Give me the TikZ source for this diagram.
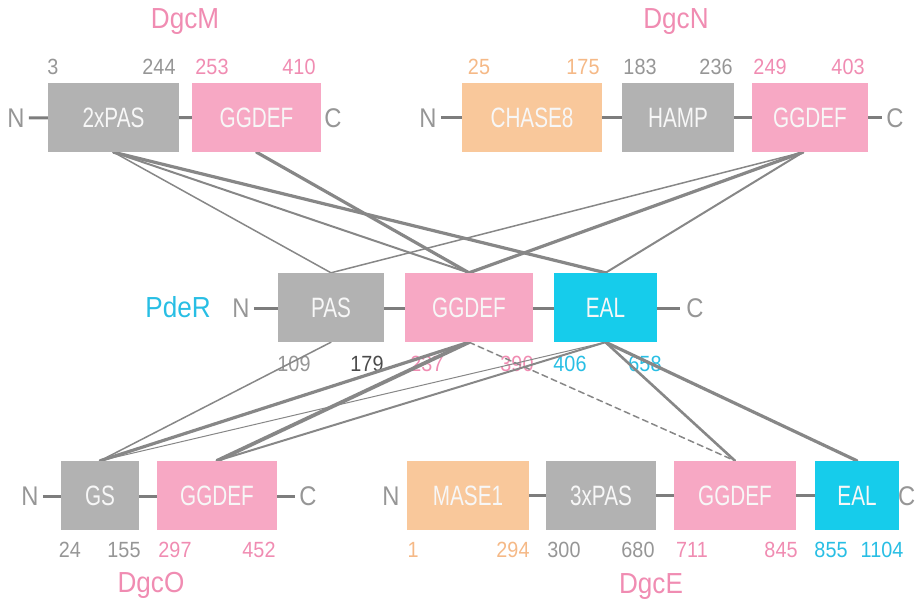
\documentclass[tikz,border=0pt]{standalone}
\usepackage{fontspec}
\setmainfont{Liberation Sans}
\newfontfamily\boxfont{Liberation Sans}[FakeStretch=0.74]
\newfontfamily\labfont{Liberation Sans}[FakeStretch=0.9]
\newfontfamily\numfont{Liberation Sans}[FakeStretch=0.9]
\newfontfamily\termfont{Liberation Sans}[FakeStretch=0.88]
\definecolor{pinkbox}{RGB}{247,168,196}
\definecolor{graybox}{RGB}{178,178,178}
\definecolor{orangebox}{RGB}{249,200,155}
\definecolor{cyanbox}{RGB}{22,204,235}
\definecolor{pinktext}{RGB}{240,140,178}
\definecolor{graytext}{RGB}{150,150,150}
\definecolor{darktext}{RGB}{75,75,75}
\definecolor{orangetext}{RGB}{245,185,135}
\definecolor{cyantext}{RGB}{40,190,228}
\definecolor{linecol}{RGB}{135,135,135}
\definecolor{bbcol}{RGB}{125,125,125}
\pgfdeclarelayer{bg}
\pgfdeclarelayer{lines}
\pgfsetlayers{bg,lines,main}
\tikzset{
  dom/.style={rectangle, inner sep=0pt, minimum height=69pt, text=white!94!gray,
    font=\boxfont\fontsize{28}{28}\selectfont},
  gdom/.style={dom, fill=graybox},
  pdom/.style={dom, fill=pinkbox},
  odom/.style={dom, fill=orangebox},
  cdom/.style={dom, fill=cyanbox},
  num/.style={inner sep=0pt, font=\numfont\fontsize{22}{22}\selectfont},
  term/.style={inner sep=0pt, text=graytext, font=\termfont\fontsize{27}{27}\selectfont},
  prot/.style={inner sep=0pt, font=\labfont\fontsize{29}{29}\selectfont},
  backbone/.style={draw=bbcol, line width=3pt},
  conn/.style={draw=linecol, line cap=round},
}
\begin{document}
\begin{tikzpicture}[x=1pt,y=-1pt]
\useasboundingbox (0,0) rectangle (915,607);
% domain boxes
\node[gdom, minimum width=131pt] (mpas) at (113.5,117.5) {2xPAS};
\node[pdom, minimum width=129pt] (mgg) at (256.5,117.5) {GGDEF};
\node[odom, minimum width=140pt] (nch) at (532,117.5) {CHASE8};
\node[gdom, minimum width=112pt] (nham) at (678,117.5) {HAMP};
\node[pdom, minimum width=116pt] (ngg) at (810,117.5) {GGDEF};
\node[gdom, minimum width=106pt] (ppas) at (331,307.5) {PAS};
\node[pdom, minimum width=128pt] (pgg) at (469,307.5) {GGDEF};
\node[cdom, minimum width=103pt] (peal) at (605.5,307.5) {EAL};
\node[gdom, minimum width=78pt] (ogs) at (100,495.5) {GS};
\node[pdom, minimum width=120pt] (ogg) at (217,495.5) {GGDEF};
\node[odom, minimum width=122pt] (emase) at (468,495.5) {MASE1};
\node[gdom, minimum width=110pt] (epas) at (601,495.5) {3xPAS};
\node[pdom, minimum width=122pt] (egg) at (735,495.5) {GGDEF};
\node[cdom, minimum width=84pt] (eeal) at (857,495.5) {EAL};
% termini
\node[term] (tMN) at (16,118) {N};
\node[term] (tMC) at (333,118) {C};
\node[term] (tNN) at (428,118) {N};
\node[term] (tNC) at (895,118) {C};
\node[term] (tRN) at (241,308) {N};
\node[term] (tRC) at (695,308) {C};
\node[term] (tON) at (30,496) {N};
\node[term] (tOC) at (308,496) {C};
\node[term] (tEN) at (391,496) {N};
\node[term, anchor=east] (tEC) at (915.5,496) {C};
% protein labels
\node[prot, text=pinktext] (lM) at (185,22) {DgcM};
\node[prot, text=pinktext] (lN) at (676,22) {DgcN};
\node[prot, text=cyantext] (lR) at (178,307) {PdeR};
\node[prot, text=pinktext] (lO) at (151,585) {DgcO};
\node[prot, text=pinktext] (lE) at (651,587) {DgcE};
\begin{pgfonlayer}{bg}
% backbones
\draw[backbone] (tMN.east) ++(4,0) -- (mgg.west);
\draw[backbone] ([xshift=4pt]tNN.east) -- ([xshift=-4pt]tNC.west);
\draw[backbone] ([xshift=4pt]tRN.east) -- ([xshift=-6pt]tRC.west);
\draw[backbone] ([xshift=4pt]tON.east) -- ([xshift=-4pt]tOC.west);
\draw[backbone] (emase.east) -- (eeal.west);
% numbers top
\node[num, text=graytext] (a1) at (53,67) {3};
\node[num, text=graytext] (a2) at (159,67) {244};
\node[num, text=pinktext] (a3) at (212,67) {253};
\node[num, text=pinktext] (a4) at (299,67) {410};
\node[num, text=orangetext] (b1) at (479,67) {25};
\node[num, text=orangetext] (b2) at (583,67) {175};
\node[num, text=graytext] (b3) at (640,67) {183};
\node[num, text=graytext] (b4) at (716,67) {236};
\node[num, text=pinktext] (b5) at (770,67) {249};
\node[num, text=pinktext] (b6) at (848,67) {403};
% numbers middle
\node[num, text=graytext] (c1) at (294,364) {109};
\node[num, text=darktext] (c2) at (367,364) {179};
\node[num, text=pinktext] (c3) at (427,364) {237};
\node[num, text=pinktext] (c4) at (517,364) {390};
\node[num, text=cyantext] (c5) at (570,364) {406};
\node[num, text=cyantext] (c6) at (645,364) {658};
% numbers bottom
\node[num, text=graytext] (d1) at (70,550) {24};
\node[num, text=graytext] (d2) at (124,550) {155};
\node[num, text=pinktext] (d3) at (175,550) {297};
\node[num, text=pinktext] (d4) at (259,550) {452};
\node[num, text=orangetext] (e1) at (413,550) {1};
\node[num, text=orangetext] (e2) at (513,550) {294};
\node[num, text=graytext] (e3) at (564,550) {300};
\node[num, text=graytext] (e4) at (638,550) {680};
\node[num, text=pinktext] (e5) at (692,550) {711};
\node[num, text=pinktext] (e6) at (781,550) {845};
\node[num, text=cyantext] (e7) at (831,550) {855};
\node[num, text=cyantext] (e8) at (882,550) {1104};
\end{pgfonlayer}
\begin{pgfonlayer}{lines}
% connectors top
\draw[conn, line width=1.5pt] (mpas.south) -- (ppas.north);
\draw[conn, line width=2pt] (mpas.south) -- (pgg.north);
\draw[conn, line width=3.2pt] (mpas.south) -- (peal.north);
\draw[conn, line width=3.2pt] (mgg.south) -- (pgg.north);
\draw[conn, line width=1.5pt] ([xshift=-7pt]ngg.south) -- (ppas.north);
\draw[conn, line width=3.2pt] ([xshift=-7pt]ngg.south) -- (pgg.north);
\draw[conn, line width=2pt] ([xshift=-7pt]ngg.south) -- (peal.north);
% connectors bottom
\draw[conn, line width=1.5pt] (ppas.south) -- (ogs.north);
\draw[conn, line width=3.2pt] (pgg.south) -- (ogs.north);
\draw[conn, line width=3.8pt] (pgg.south) -- (ogg.north);
\draw[conn, line width=1pt] (peal.south) -- (ogs.north);
\draw[conn, line width=2pt] (peal.south) -- (ogg.north);
\draw[conn, line width=1.5pt, dash pattern=on 6pt off 4pt] (pgg.south) -- (egg.north);
\draw[conn, line width=2.6pt] (peal.south) -- (egg.north);
\draw[conn, line width=3.2pt] (peal.south) -- (eeal.north);
\end{pgfonlayer}
\end{tikzpicture}
\end{document}
